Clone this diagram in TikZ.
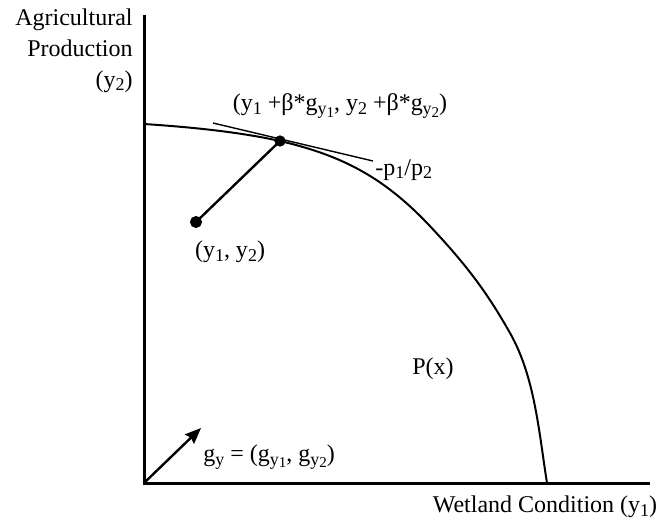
\documentclass[tikz,border=0pt]{standalone}
\usepackage{fontspec}
\setmainfont{Liberation Serif}
\usetikzlibrary{arrows.meta}
\newcommand{\sbs}[1]{\raisebox{-0.3ex}{\fontsize{9}{9}\selectfont #1}}
\newcommand{\ssbs}[1]{\raisebox{-0.35ex}{\fontsize{7.5}{7.5}\selectfont #1}}

\begin{document}
\begin{tikzpicture}[x=0.5pt, y=-0.5pt, every node/.style={font=\fontsize{12}{15.5}\selectfont, inner sep=0pt}]
  \useasboundingbox (0,0) rectangle (670,521);
  \coordinate (O) at (144,483);
  \coordinate (ytop) at (144,15);
  \coordinate (xend) at (650,483);
  \coordinate (tp) at (280,141);
  \coordinate (y0) at (196,222);
  \coordinate (t1) at (213,123);
  \coordinate (t2) at (373,161);
  \coordinate (gtip) at (201,428);
  \draw[line width=1.5pt] (ytop) -- (O) -- (xend);
  \draw[line width=1pt] (144,124) .. controls (190,127) and (240,132) .. (tp)
    .. controls (340,155) and (382,176) .. (427,223)
    .. controls (467,265) and (488,294) .. (510,333)
    .. controls (535,377) and (539,433) .. (547,483);
  \draw[line width=0.7pt] (t1) -- (t2);
  \draw[line width=1.2pt] (y0) -- (tp);
  \filldraw (tp) circle (2.6pt);
  \filldraw (y0) circle (2.8pt);
  \draw[line width=1.2pt, -{Stealth[length=8pt, width=6.5pt, inset=1pt]}] (O) -- (gtip);
  \node[anchor=north east, align=right] (ylab) at (133,8) {Agricultural\\Production\\(y\sbs{2})};
  \node (tplab) at (340,106) {(y\sbs{1} +β*g\sbs{y\ssbs{1}}, y\sbs{2} +β*g\sbs{y\ssbs{2}})};
  \node[anchor=west] (slope) at (375,170) {-p\sbs{1}/p\sbs{2}};
  \node (y0lab) at (230,252) {(y\sbs{1}, y\sbs{2})};
  \node (plab) at (433,369) {P(x)};
  \node[anchor=west] (glab) at (203,457) {g\sbs{y} = (g\sbs{y\ssbs{1}}, g\sbs{y\ssbs{2}})};
  \node (xlab) at (545,507) {Wetland Condition (y\sbs{1})};
\end{tikzpicture}
\end{document}
